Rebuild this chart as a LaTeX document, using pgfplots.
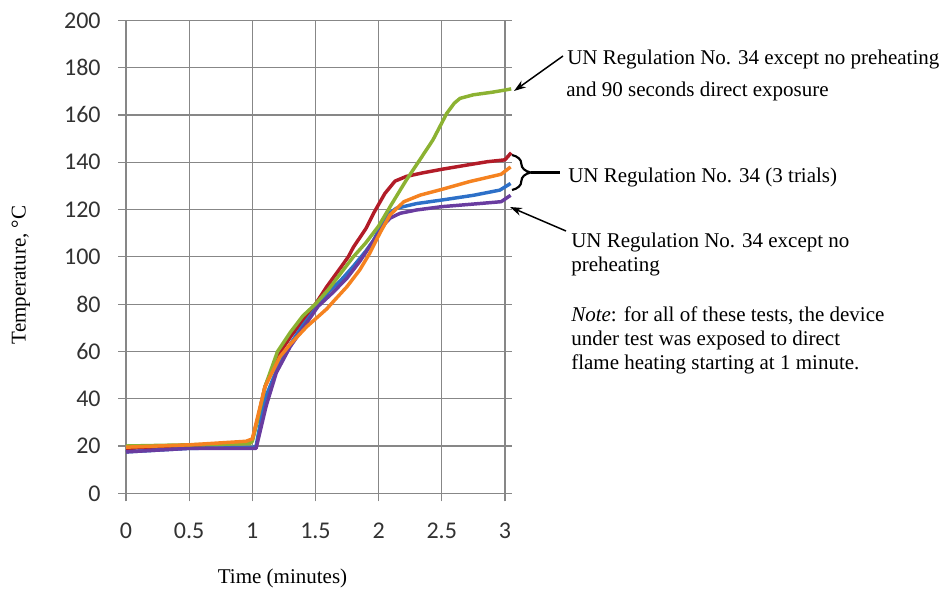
\documentclass[border=0pt]{standalone}
\usepackage{pgfplots}
\pgfplotsset{compat=1.18}
\usepackage{fontspec}
\setmainfont{Liberation Serif}
\newfontfamily\calibri{Carlito}
\usetikzlibrary{decorations.pathreplacing,arrows.meta}
\definecolor{cgreen}{RGB}{140,178,50}
\definecolor{cred}{RGB}{178,28,40}
\definecolor{corange}{RGB}{245,130,32}
\definecolor{cblue}{RGB}{45,112,200}
\definecolor{cpurple}{RGB}{105,60,160}
\definecolor{cgrid}{RGB}{135,135,135}
\definecolor{ctick}{RGB}{50,50,50}
\begin{document}
\begin{tikzpicture}
\useasboundingbox (0,0) rectangle (708.75pt,-441.75pt);
\begin{axis}[
  anchor=south west, at={(94.5pt,-369.975pt)},
  x=94.725pt, y=1.77375pt,
  xmin=0, xmax=3.055, ymin=0, ymax=200,
  xtick={0,0.5,1,1.5,2,2.5,3},
  ytick={0,20,...,200},
  xticklabels={0,0.5,1,1.5,2,2.5,3},
  axis line style={draw=none},
  grid=major,
  major grid style={cgrid, line width=0.9pt},
  tick align=outside,
  major tick length=6pt,
  tick style={cgrid, line width=0.9pt},
  xtick pos=lower, ytick pos=left,
  tick label style={font=\calibri\fontsize{18}{20}\selectfont, text=ctick},
  /pgf/number format/assume math mode=true,
  yticklabel style={xshift=-9.5pt},
  xticklabel style={yshift=-13pt},
  every axis plot/.append style={line width=2.6pt, line join=round},
  clip=false,
]
\addplot[cred, mark=none] coordinates {
(0,19) (0.5,20) (0.97,21.5) (1.0,22.5) (1.05,33) (1.1,45) (1.2,58) (1.3,66) (1.4,73) (1.5,80) (1.59,87.4) (1.7,95.5) (1.76,100) (1.8,104) (1.9,112) (1.96,118.4) (2.05,126.8) (2.13,132) (2.22,134) (2.35,135.5) (2.5,137) (2.7,138.8) (2.86,140.2) (3.0,141) (3.05,144)
};
\addplot[cblue, mark=none] coordinates {
(0,17.5) (0.5,19) (1.0,19.3) (1.03,20) (1.1,40) (1.2,53) (1.3,63) (1.4,71) (1.5,78) (1.6,85) (1.7,90) (1.8,96) (1.9,102.5) (1.96,107) (2.06,117.5) (2.14,120.5) (2.3,122.5) (2.5,124) (2.75,126) (2.96,128.2) (3.045,131)
};
\addplot[cpurple, mark=none] coordinates {
(0,17.5) (0.5,19) (1.03,19) (1.07,28) (1.11,37) (1.19,51) (1.3,62) (1.43,72) (1.52,79) (1.64,85) (1.75,91) (1.85,98) (1.95,106) (2.05,114) (2.09,116.3) (2.17,118.4) (2.3,119.8) (2.5,121.2) (2.75,122.3) (2.97,123.3) (3.045,126)
};
\addplot[cgreen, mark=none] coordinates {
(0,20) (0.5,20.5) (0.98,21) (1.0,22) (1.05,33) (1.1,45) (1.2,60) (1.3,68) (1.4,75) (1.5,80) (1.6,86) (1.7,93) (1.8,100) (1.9,106) (2.0,113) (2.1,122) (2.22,132.5) (2.32,140.5) (2.43,149.4) (2.54,160.7) (2.6,165) (2.645,167) (2.75,168.5) (2.9,169.6) (3.0,170.5) (3.05,171)
};
\addplot[corange, mark=none] coordinates {
(0,19.5) (0.5,20.5) (0.95,22) (1.0,23) (1.05,34) (1.1,45) (1.22,57.8) (1.3,63) (1.43,70.4) (1.59,78) (1.64,81) (1.75,87.4) (1.85,94.4) (1.93,101.5) (2.01,110) (2.09,117.7) (2.2,123.3) (2.33,126.1) (2.5,128.5) (2.72,131.8) (2.97,134.9) (3.045,138)
};
\end{axis}
\begin{scope}[x=0.75pt,y=-0.75pt, font=\fontsize{15.75}{18}\selectfont]
\node[anchor=base west, inner sep=0pt] at (567,64) {UN Regulation No. 34 except no preheating};
\node[anchor=base west, inner sep=0pt] at (566,96) {and 90 seconds direct exposure};
\node[anchor=base west, inner sep=0pt] at (568,182) {UN Regulation No. 34 (3 trials)};
\node[anchor=base west, inner sep=0pt] at (571,247) {UN Regulation No. 34 except no};
\node[anchor=base west, inner sep=0pt] at (571,271.5) {preheating};
\node[anchor=base west, inner sep=0pt] at (571,321.5) {\textit{Note}: for all of these tests, the device};
\node[anchor=base west, inner sep=0pt] at (571,345.2) {under test was exposed to direct};
\node[anchor=base west, inner sep=0pt] at (571,369) {flame heating starting at 1 minute.};
\node[anchor=base, inner sep=0pt] at (282.5,583) {Time (minutes)};
\node[rotate=90, inner sep=0pt] at (21,275) {Temperature, °C};
\draw[line width=1.1pt, -{Stealth[length=9pt,width=6pt]}] (563,56) -- (514,91);
\draw[line width=1.1pt, -{Stealth[length=9pt,width=6pt]}] (566,231) -- (510,207);
\draw[line width=1.6pt, decorate, decoration={brace, amplitude=14pt}] (512,155) -- (512,190);
\draw[line width=1.6pt] (531,172.5) -- (560,172.5);
\end{scope}
\end{tikzpicture}
\end{document}
